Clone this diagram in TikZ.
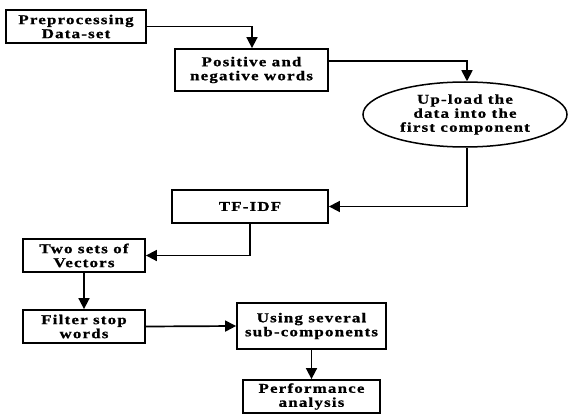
\documentclass[tikz,border=0pt]{standalone}
\usepackage{fontspec}
\setmainfont{Liberation Serif}
\newfontfamily\boxfont[FakeStretch=1.25,LetterSpace=9,FakeBold=1]{Liberation Serif Bold}
\usetikzlibrary{arrows.meta,shapes.geometric}
\tikzset{
  flowbox/.style={draw=black, line width=1.8pt, rectangle, inner sep=0pt, align=center,
    font=\boxfont\fontsize{13.5}{14}\selectfont},
  flowell/.style={draw=black, line width=1.5pt, ellipse, inner sep=0pt, align=center,
    font=\boxfont\fontsize{13.5}{14}\selectfont},
  link/.style={draw=black, line width=1.7pt, -{Triangle[length=11pt,width=11pt]}},
}
\begin{document}
\begin{tikzpicture}[x=1pt,y=-1pt]
\useasboundingbox (0,0) rectangle (569,414);
\node[flowbox, minimum width=140pt, minimum height=33pt] (b1) at (76,26.5) {Preprocessing\\Data-set};
\node[flowbox, minimum width=153pt, minimum height=42pt] (b2) at (251.5,70) {Positive and\\negative words};
\node[flowell, minimum width=204pt, minimum height=65pt] (e3) at (465,114.5) {Up-load the\\data into the\\first component};
\node[flowbox, minimum width=156pt, minimum height=33pt] (b4) at (250,206.5) {TF-IDF};
\node[flowbox, minimum width=122pt, minimum height=33pt] (b5) at (84,255.5) {Two sets of\\Vectors};
\node[flowbox, minimum width=122pt, minimum height=33pt] (b6) at (84,326.5) {Filter stop\\words};
\node[flowbox, minimum width=149pt, minimum height=46pt] (b7) at (311.5,326) {Using several\\sub-components};
\node[flowbox, minimum width=137pt, minimum height=33pt] (b8) at (311.5,396.5) {Performance\\analysis};
\coordinate (c1) at (252,26.5);
\coordinate (c2a) at (b2.east |- 0,61);
\coordinate (c2) at (467,61);
\coordinate (c3) at (467,206.5);
\coordinate (c4) at (250,255.5);
\draw[link] (b1.east) -- (c1) -- (c1 |- b2.north);
\draw[link] (c2a) -- (c2) -- (c2 |- e3.north);
\draw[link] (c2 |- e3.south) -- (c3) -- (b4.east);
\draw[link] (b4.south) -- (c4) -- (b5.east);
\draw[link] (b5.south) -- (b6.north);
\draw[link] (b6.east) -- (b7.west);
\draw[link] (b7.south) -- (b8.north);
\end{tikzpicture}
\end{document}
